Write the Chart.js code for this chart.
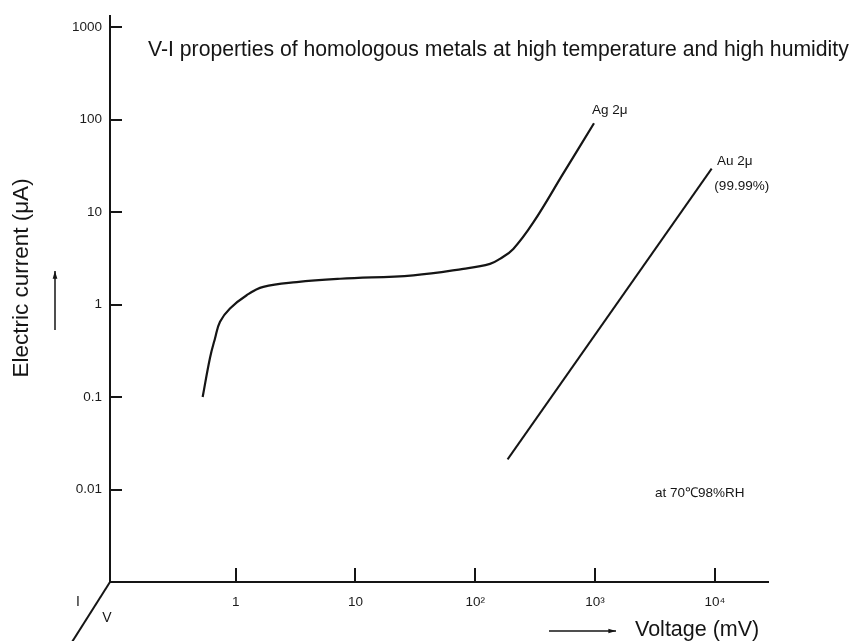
<!DOCTYPE html>
<html>
<head>
<meta charset="utf-8">
<script src="https://cdn.jsdelivr.net/npm/chart.js"></script>
<style>
  html, body { margin: 0; padding: 0; background: #fff; }
  #wrap { width: 858px; height: 641px; position: relative; }
</style>
</head>
<body>
<div id="wrap"><canvas id="chart"></canvas></div>
<script>
// V-I data (voltage in mV, current in uA)
const agVoltage = [0.53, 0.61, 0.672, 0.74, 0.896, 1.235, 1.70, 3.23, 7.43, 30.4, 79.4, 132.7, 160.7, 207.6, 305, 546, 979];
const agCurrent = [0.1, 0.264, 0.43, 0.652, 0.906, 1.26, 1.55, 1.75, 1.90, 2.07, 2.43, 2.75, 3.12, 3.99, 7.71, 26.5, 91.2];
const auVoltage = [186, 9400];
const auCurrent = [0.0212, 29.5];

const xTicks = [1, 10, 100, 1000, 10000];
const xTickLabels = ['1', '10', '10²', '10³', '10⁴'];
const yTicks = [0.01, 0.1, 1, 10, 100, 1000];
const yTickLabels = ['0.01', '0.1', '1', '10', '100', '1000'];

// text notes anchored in data space: [text, voltage, current]
const notes = [
  ['Ag 2μ', 942, 126],
  ['Au 2μ', 10400, 35.7],
  ['(99.99%)', 9900, 19.2],
  ['at 70℃98%RH', 3160, 0.0091]
];

const ink = '#151515';
const toPoints = (xs, ys) => xs.map((x, i) => ({ x, y: ys[i] }));

function arrow(ctx, x1, y1, x2, y2) {
  ctx.beginPath();
  ctx.moveTo(x1, y1);
  ctx.lineTo(x2, y2);
  ctx.stroke();
  const a = Math.atan2(y2 - y1, x2 - x1);
  ctx.beginPath();
  ctx.moveTo(x2, y2);
  ctx.lineTo(x2 - 8 * Math.cos(a - 0.3), y2 - 8 * Math.sin(a - 0.3));
  ctx.lineTo(x2 - 8 * Math.cos(a + 0.3), y2 - 8 * Math.sin(a + 0.3));
  ctx.closePath();
  ctx.fill();
}

const decorations = {
  id: 'decorations',
  afterDraw(chart) {
    const { ctx, chartArea: area, scales: { x, y } } = chart;
    ctx.save();
    ctx.strokeStyle = ink;
    ctx.fillStyle = ink;
    ctx.lineWidth = 2;

    // inward tick marks
    xTicks.forEach(v => {
      const px = Math.round(x.getPixelForValue(v));
      ctx.beginPath(); ctx.moveTo(px, area.bottom); ctx.lineTo(px, area.bottom - 14); ctx.stroke();
    });
    yTicks.forEach(v => {
      const py = Math.round(y.getPixelForValue(v));
      ctx.beginPath(); ctx.moveTo(area.left, py); ctx.lineTo(area.left + 12, py); ctx.stroke();
    });

    // third (depth) axis stub
    ctx.beginPath();
    ctx.moveTo(area.left, area.bottom);
    ctx.lineTo(area.left - 38, area.bottom + 60);
    ctx.stroke();
    ctx.font = '14px "Liberation Sans", Arial, sans-serif';
    ctx.textAlign = 'center';
    ctx.textBaseline = 'middle';
    ctx.fillText('I', 78, 602);
    ctx.fillText('V', 107, 618);

    // title
    ctx.font = '21.2px "Liberation Sans", Arial, sans-serif';
    ctx.textAlign = 'left';
    ctx.fillText('V-I properties of homologous metals at high temperature and high humidity', 148, 50);

    // x axis caption + arrow
    ctx.font = '21.5px "Liberation Sans", Arial, sans-serif';
    ctx.fillText('Voltage (mV)', 635, 630);
    ctx.lineWidth = 1.5;
    arrow(ctx, 549, 631, 616, 631);

    // y axis caption + arrow
    arrow(ctx, 55, 330, 55, 271);
    ctx.save();
    ctx.translate(22, 278);
    ctx.rotate(-Math.PI / 2);
    ctx.textAlign = 'center';
    ctx.font = '22.5px "Liberation Sans", Arial, sans-serif';
    ctx.fillText('Electric current (μA)', 0, 0);
    ctx.restore();

    // curve notes
    ctx.font = '13.5px "Liberation Sans", Arial, sans-serif';
    ctx.textAlign = 'left';
    notes.forEach(([t, vx, vy]) => {
      ctx.fillText(t, x.getPixelForValue(vx), y.getPixelForValue(vy));
    });
    ctx.restore();
  }
};

new Chart(document.getElementById('chart'), {
  type: 'line',
  data: {
    datasets: [
      {
        label: 'Ag 2μ',
        data: toPoints(agVoltage, agCurrent),
        borderColor: ink,
        borderWidth: 2.2,
        pointRadius: 0,
        tension: 0.4
      },
      {
        label: 'Au 2μ (99.99%)',
        data: toPoints(auVoltage, auCurrent),
        borderColor: ink,
        borderWidth: 2,
        pointRadius: 0,
        tension: 0
      }
    ]
  },
  options: {
    responsive: true,
    maintainAspectRatio: false,
    animation: false,
    layout: { padding: { top: 13, right: 90, left: 0, bottom: 0 } },
    plugins: { legend: { display: false }, tooltip: { enabled: false } },
    scales: {
      x: {
        type: 'logarithmic',
        min: 0.0893,
        max: 27750,
        afterFit: s => { s.height = 59; },
        afterBuildTicks: s => { s.ticks = xTicks.map(v => ({ value: v })); },
        grid: { drawOnChartArea: false, drawTicks: false },
        border: { color: ink, width: 2 },
        ticks: {
          padding: 12,
          maxRotation: 0,
          autoSkip: false,
          color: '#1c1c1c',
          font: { family: '"Liberation Sans", Arial, sans-serif', size: 13.5 },
          callback: (v) => xTickLabels[xTicks.indexOf(v)]
        }
      },
      y: {
        type: 'logarithmic',
        min: 0.001,
        max: 1313,
        afterFit: s => { s.width = 110; },
        afterBuildTicks: s => { s.ticks = yTicks.map(v => ({ value: v })); },
        grid: { drawOnChartArea: false, drawTicks: false },
        border: { color: ink, width: 2 },
        ticks: {
          padding: 8,
          autoSkip: false,
          color: '#1c1c1c',
          font: { family: '"Liberation Sans", Arial, sans-serif', size: 13.5 },
          callback: (v) => yTickLabels[yTicks.indexOf(v)]
        }
      }
    }
  },
  plugins: [decorations]
});
</script>
</body>
</html>
